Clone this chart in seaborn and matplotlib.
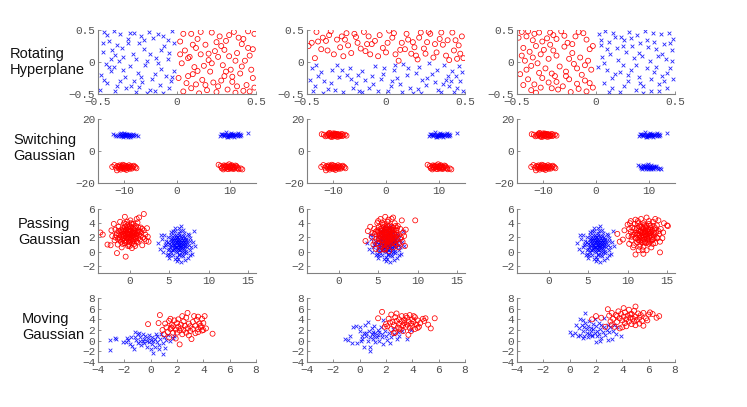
import matplotlib
matplotlib.use("Agg")
import matplotlib.pyplot as plt
import seaborn as sns
import numpy as np

# ---- Rotating Hyperplane ----
rot1_blue = [(-0.46,0.47),(-0.40,0.48),(-0.36,0.44),(-0.27,0.46),(-0.18,0.47),(-0.12,0.43),(-0.03,0.49),(-0.43,0.33),(-0.38,0.27),(-0.31,0.36),(-0.24,0.30),(-0.15,0.38),(-0.08,0.25),(-0.47,0.15),(-0.41,0.19),(-0.34,0.08),(-0.28,0.13),(-0.21,0.21),(-0.13,0.06),(-0.05,0.14),(-0.45,-0.03),(-0.37,0.02),(-0.30,-0.07),(-0.19,0.01),(-0.10,-0.11),(-0.02,-0.14),(-0.48,-0.21),(-0.42,-0.14),(-0.33,-0.23),(-0.25,-0.17),(-0.16,-0.26),(-0.07,-0.22),(-0.44,-0.33),(-0.36,-0.29),(-0.29,-0.38),(-0.22,-0.31),(-0.11,-0.36),(-0.04,-0.30),(-0.49,-0.43),(-0.39,-0.46),(-0.32,-0.41),(-0.26,-0.47),(-0.17,-0.43),(-0.09,-0.48),(-0.35,0.22),(-0.20,-0.05),(-0.06,0.34),(-0.14,-0.18),(-0.40,-0.08),(-0.23,0.41),
             (-0.44,0.42),(-0.30,0.45),(-0.21,0.35),(-0.09,0.40),(-0.02,0.30),(-0.47,0.30),(-0.39,0.11),(-0.26,0.04),(-0.17,0.13),(-0.06,0.05),(-0.43,-0.08),(-0.34,-0.13),(-0.23,-0.24),(-0.12,-0.02),(-0.03,-0.24),(-0.46,-0.28),(-0.38,-0.37),(-0.27,-0.30),(-0.19,-0.49),(-0.05,-0.40),(-0.14,-0.46),(-0.31,0.29),(-0.10,0.18),(-0.24,-0.39),(-0.42,0.05)]
rot1_red = [(0.02,0.32),(0.05,0.18),(0.09,0.44),(0.13,0.36),(0.18,0.27),(0.22,0.46),(0.27,0.40),(0.31,0.33),(0.36,0.47),(0.41,0.28),(0.45,0.48),(0.48,0.20),(0.03,-0.02),(0.07,0.06),(0.11,-0.08),(0.15,0.12),(0.20,0.03),(0.24,0.17),(0.29,-0.05),(0.33,0.09),(0.38,0.14),(0.43,0.02),(0.47,-0.12),(0.01,-0.25),(0.06,-0.33),(0.10,-0.19),(0.16,-0.28),(0.21,-0.15),(0.26,-0.38),(0.30,-0.22),(0.35,-0.31),(0.40,-0.18),(0.44,-0.36),(0.49,-0.40),(0.04,-0.46),(0.09,-0.41),(0.14,-0.49),(0.19,-0.44),(0.25,-0.47),(0.32,-0.43),(0.37,-0.48),(0.42,-0.45),(0.12,0.22),(0.28,0.25),(0.39,0.38),(0.17,-0.06),(0.34,-0.12),(0.23,-0.32),(0.46,0.10),(0.08,0.08),
            (0.04,0.44),(0.15,0.47),(0.25,0.31),(0.33,0.42),(0.42,0.36),(0.49,0.44),(0.10,0.27),(0.20,0.13),(0.30,0.19),(0.37,0.02),(0.45,0.22),(0.02,0.12),(0.13,-0.14),(0.22,-0.02),(0.31,-0.15),(0.41,-0.07),(0.48,-0.25),(0.07,-0.22),(0.18,-0.36),(0.28,-0.29),(0.38,-0.38),(0.46,-0.46),(0.12,-0.35),(0.35,-0.23),(0.26,0.08)]
rot2_blue = [(-0.48,-0.28),(-0.45,-0.37),(-0.41,-0.15),(-0.37,-0.42),(-0.34,-0.12),(-0.30,-0.24),(-0.27,-0.47),(-0.23,-0.09),(-0.19,-0.33),(-0.15,-0.14),(-0.11,-0.40),(-0.07,-0.06),(-0.03,-0.26),(0.01,-0.45),(0.05,-0.12),(0.09,-0.34),(0.13,-0.21),(0.17,-0.48),(0.21,-0.08),(0.25,-0.36),(0.29,-0.18),(0.33,-0.43),(0.37,-0.05),(0.41,-0.29),(0.45,-0.40),(0.48,-0.15),(-0.46,-0.45),(-0.39,-0.30),(-0.32,-0.44),(-0.25,-0.20),(-0.17,-0.45),(-0.09,-0.22),(-0.01,-0.10),(0.07,-0.25),(0.15,-0.40),(0.23,-0.28),(0.31,-0.31),(0.39,-0.22),(0.46,-0.07),(-0.43,-0.22),(-0.21,-0.41),(0.03,-0.38),(0.19,-0.17),(0.35,-0.47),(0.43,-0.47),(-0.13,-0.28),(0.11,-0.03),(0.27,-0.02),(-0.05,-0.46),(0.40,-0.38),
             (-0.47,-0.10),(-0.40,-0.48),(-0.35,-0.33),(-0.28,-0.12),(-0.22,-0.27),(-0.15,-0.47),(-0.08,-0.35),(-0.02,-0.18),(0.04,-0.30),(0.10,-0.47),(0.14,-0.10),(0.20,-0.42),(0.26,-0.25),(0.32,-0.12),(0.36,-0.35),(0.42,-0.14),(0.47,-0.30),(0.49,-0.46),(-0.44,-0.05),(-0.31,-0.05),(-0.18,-0.20),(0.06,-0.04),(0.22,-0.48),(0.38,-0.28),(0.44,-0.22)]
rot2_red = [(-0.47,0.30),(-0.44,0.47),(-0.40,0.38),(-0.36,0.42),(-0.33,0.12),(-0.28,0.40),(-0.24,0.26),(-0.20,0.44),(-0.16,0.21),(-0.11,0.40),(-0.07,0.33),(-0.02,0.22),(0.02,0.49),(0.06,0.12),(0.10,0.30),(0.14,0.35),(0.18,0.23),(0.22,0.46),(0.26,0.31),(0.30,0.07),(0.34,0.36),(0.38,0.10),(0.42,0.46),(0.46,0.26),(0.49,0.06),(-0.45,0.06),(-0.41,0.20),(-0.37,0.18),(-0.31,0.35),(-0.27,0.09),(-0.22,0.14),(-0.18,0.30),(-0.13,0.17),(-0.09,0.28),(-0.05,0.09),(0.00,0.15),(0.04,0.38),(0.08,0.02),(0.12,0.20),(0.16,0.13),(0.20,0.04),(0.24,0.21),(0.28,0.44),(0.32,0.15),(0.36,0.27),(0.40,0.03),(0.44,0.34),(0.47,0.13),(-0.38,0.33),(0.25,0.13),
            (-0.49,0.25),(-0.43,0.32),(-0.35,0.48),(-0.29,0.23),(-0.25,0.45),(-0.19,0.39),(-0.14,0.47),(-0.10,0.12),(-0.04,0.42),(0.01,0.30),(0.05,0.45),(0.09,0.19),(0.13,0.44),(0.17,0.31),(0.21,0.38),(0.27,0.47),(0.31,0.28),(0.35,0.46),(0.39,0.34),(0.43,0.18),(0.48,0.40),(0.45,0.05),(0.19,0.10),(-0.12,0.28),(-0.26,0.35)]
rot3_blue = [(0.02,0.43),(0.06,0.48),(0.11,0.45),(0.16,0.39),(0.21,0.47),(0.26,0.42),(0.31,0.48),(0.36,0.46),(0.41,0.44),(0.46,0.46),(0.49,0.36),(0.03,0.27),(0.08,0.31),(0.13,0.22),(0.18,0.35),(0.23,0.25),(0.28,0.30),(0.33,0.24),(0.38,0.21),(0.43,0.28),(0.48,0.18),(0.04,0.08),(0.09,0.12),(0.14,0.03),(0.19,0.15),(0.24,0.06),(0.29,0.10),(0.34,0.02),(0.39,0.09),(0.44,0.05),(0.01,-0.08),(0.07,-0.13),(0.12,-0.19),(0.17,-0.05),(0.22,-0.12),(0.27,-0.24),(0.32,-0.10),(0.37,-0.16),(0.42,-0.22),(0.47,-0.09),(0.05,-0.33),(0.10,-0.40),(0.15,-0.47),(0.20,-0.30),(0.25,-0.43),(0.30,-0.37),(0.35,-0.45),(0.40,-0.34),(0.45,-0.40),(0.49,-0.26),
             (0.03,0.35),(0.07,0.21),(0.12,0.39),(0.17,0.25),(0.22,0.37),(0.27,0.14),(0.32,0.35),(0.37,0.31),(0.42,0.13),(0.47,0.30),(0.05,-0.02),(0.10,-0.25),(0.15,-0.15),(0.20,-0.21),(0.25,-0.05),(0.30,-0.48),(0.35,-0.27),(0.40,-0.46),(0.45,-0.17),(0.48,0.02),(0.08,-0.47),(0.18,-0.38),(0.28,-0.33),(0.38,-0.08),(0.43,-0.30)]
rot3_red = [(-0.47,0.47),(-0.44,0.40),(-0.40,0.34),(-0.36,0.46),(-0.31,0.37),(-0.27,0.42),(-0.22,0.48),(-0.18,0.30),(-0.13,0.40),(-0.08,0.45),(-0.04,0.20),(-0.46,0.22),(-0.42,0.16),(-0.38,0.25),(-0.33,0.19),(-0.29,0.27),(-0.25,0.10),(-0.20,0.24),(-0.15,0.14),(-0.10,0.07),(-0.05,0.02),(-0.45,0.02),(-0.41,-0.06),(-0.37,-0.02),(-0.32,-0.10),(-0.28,-0.18),(-0.23,-0.07),(-0.19,-0.15),(-0.14,-0.03),(-0.09,-0.20),(-0.03,-0.12),(-0.48,-0.19),(-0.43,-0.27),(-0.39,-0.35),(-0.34,-0.25),(-0.30,-0.32),(-0.26,-0.22),(-0.21,-0.38),(-0.17,-0.27),(-0.12,-0.34),(-0.07,-0.29),(-0.02,-0.40),(-0.46,-0.36),(-0.41,-0.44),(-0.35,-0.40),(-0.24,-0.43),(-0.16,-0.47),(-0.11,-0.42),(-0.06,-0.46),(-0.30,0.05),
            (-0.49,0.38),(-0.43,0.48),(-0.39,0.44),(-0.34,0.32),(-0.29,0.46),(-0.25,0.36),(-0.20,0.41),(-0.15,0.28),(-0.11,0.47),(-0.06,0.35),(-0.02,0.25),(-0.47,0.10),(-0.40,0.07),(-0.35,0.12),(-0.27,0.18),(-0.17,0.05),(-0.12,-0.10),(-0.07,-0.05),(-0.44,-0.12),(-0.36,-0.17),(-0.25,-0.31),(-0.19,-0.22),(-0.04,-0.33),(-0.38,-0.48),(-0.28,-0.41)]

# ---- Switching Gaussian: four clusters ----
sw_tl = [(-11.8,10.2),(-11.2,9.6),(-10.9,10.8),(-10.6,9.1),(-10.4,10.4),(-10.2,9.8),(-10.0,11.0),(-9.8,10.1),(-9.6,9.4),(-9.4,10.6),(-9.2,9.9),(-9.0,10.3),(-8.7,9.5),(-8.4,10.7),(-8.1,9.8),(-7.8,10.2),(-11.5,9.2),(-11.0,10.0),(-10.7,11.3),(-10.3,8.7),(-10.1,10.0),(-9.9,9.2),(-9.7,10.9),(-9.5,10.2),(-9.3,8.9),(-9.1,10.5),(-8.9,9.7),(-8.6,10.0),(-8.3,9.3),(-10.5,9.6),(-9.8,10.5),(-10.8,10.4),(-9.0,9.0),(-12.2,10.5),(-7.5,9.6)]
sw_tr = [(8.2,9.6),(8.6,10.4),(8.9,9.2),(9.2,10.8),(9.4,9.8),(9.6,10.3),(9.8,9.4),(10.0,10.9),(10.2,9.9),(10.4,10.5),(10.6,9.1),(10.8,10.2),(11.0,9.7),(11.3,10.6),(11.6,9.5),(11.9,10.8),(12.2,10.1),(13.4,11.2),(8.4,10.9),(9.0,10.1),(9.3,11.6),(9.7,8.8),(9.9,10.2),(10.1,9.3),(10.3,11.2),(10.5,9.7),(10.7,10.7),(10.9,8.7),(11.2,10.0),(11.5,11.0),(12.0,9.4),(9.5,9.0),(10.4,10.0),(8.8,9.8),(11.7,10.3)]
sw_bl = [(-11.9,-8.8),(-11.6,-10.4),(-11.3,-9.4),(-11.0,-11.0),(-10.8,-9.7),(-10.5,-10.5),(-10.3,-8.6),(-10.1,-10.1),(-9.9,-11.3),(-9.7,-9.3),(-9.5,-10.7),(-9.3,-9.9),(-9.0,-11.1),(-8.8,-9.5),(-8.5,-10.3),(-8.2,-9.2),(-7.9,-10.0),(-11.4,-12.1),(-11.1,-10.0),(-10.7,-11.6),(-10.4,-9.5),(-10.2,-10.9),(-10.0,-9.0),(-9.8,-10.4),(-9.6,-11.8),(-9.4,-9.7),(-9.2,-10.5),(-8.9,-10.0),(-8.6,-11.0),(-8.3,-9.8),(-12.3,-9.9),(-10.6,-10.2),(-9.1,-8.9),(-7.7,-10.8),(-10.9,-9.0)]
sw_br = [(7.9,-8.6),(8.3,-9.4),(8.6,-10.2),(8.9,-9.0),(9.1,-10.7),(9.3,-9.6),(9.5,-11.1),(9.7,-10.0),(9.9,-8.3),(10.1,-10.4),(10.3,-9.3),(10.5,-11.0),(10.7,-9.8),(10.9,-10.6),(11.1,-9.1),(11.4,-10.3),(11.7,-11.4),(12.1,-10.9),(12.4,-11.5),(8.5,-10.8),(8.8,-11.5),(9.2,-9.2),(9.4,-10.1),(9.6,-9.0),(9.8,-11.3),(10.0,-9.7),(10.2,-10.9),(10.4,-8.9),(10.6,-10.2),(10.8,-11.2),(11.0,-10.0),(11.3,-9.5),(11.6,-10.7),(9.0,-9.9),(10.2,-10.0)]

# ---- Passing Gaussian ----
pass_blue = [(3.6,1.2),(3.9,0.4),(4.1,1.8),(4.2,-0.1),(4.4,2.3),(4.5,0.9),(4.6,1.5),(4.7,-0.5),(4.8,0.3),(4.9,2.0),(5.0,1.1),(5.0,-0.9),(5.1,0.6),(5.2,2.8),(5.2,1.4),(5.3,0.0),(5.4,1.9),(5.4,0.8),(5.5,-0.4),(5.5,1.2),(5.6,2.4),(5.6,0.4),(5.7,1.7),(5.7,-1.1),(5.8,0.9),(5.8,3.3),(5.9,1.3),(5.9,0.1),(6.0,2.1),(6.0,0.7),(6.0,-0.7),(6.1,1.5),(6.1,1.0),(6.2,2.6),(6.2,0.3),(6.3,1.8),(6.3,-0.3),(6.4,1.1),(6.4,0.6),(6.5,2.2),(6.5,-1.4),(6.6,1.4),(6.6,0.0),(6.7,0.9),(6.7,3.0),(6.8,1.7),(6.8,-0.6),(6.9,0.5),(7.0,2.0),(7.0,1.2),(7.1,-0.2),(7.2,1.6),(7.3,0.7),(7.4,2.5),(7.4,-0.9),(7.5,1.0),(7.6,0.2),(7.7,1.9),(7.8,0.6),(8.0,1.4),(8.1,2.9),(8.3,0.8),(4.3,0.6),(4.8,1.3),(5.1,-0.4),(5.3,2.4),(5.6,1.0),(5.9,1.9),(6.1,-1.1),(6.2,1.3),(6.4,2.9),(6.6,0.5),(6.9,1.4),(7.2,0.1),(7.5,2.3),(5.4,0.3),(6.0,1.3),(6.3,0.9),(5.8,0.5),(6.7,1.2),(7.9,-0.3),(5.7,2.9),(6.5,3.6),(4.0,2.4),(7.0,-1.2),(5.5,1.6),(6.2,0.7),(6.8,2.2),
             (5.2,0.9),(5.4,1.5),(5.5,0.2),(5.6,1.9),(5.7,0.7),(5.8,1.2),(5.9,0.6),(5.9,2.4),(6.0,1.7),(6.0,0.0),(6.1,0.4),(6.1,2.0),(6.2,1.0),(6.2,-0.4),(6.3,1.4),(6.3,2.3),(6.4,0.2),(6.4,1.7),(6.5,0.8),(6.5,1.2),(6.6,1.9),(6.6,-0.5),(6.7,0.4),(6.7,1.6),(6.8,1.0),(6.9,2.6),(6.9,-0.1),(7.0,0.8),(7.1,1.8),(7.2,1.1),(5.3,1.8),(5.0,0.4),(4.6,1.1),(7.3,1.3),(7.6,1.5),(5.5,2.9),(6.3,3.3),(4.9,-0.3),(7.7,-0.4),(6.0,-1.3)]
pass1_red = [(-3.7,2.7),(-3.4,2.4),(-2.8,1.0),(-2.4,0.9),(-1.6,-0.2),(-0.5,-0.7),(1.8,5.3),(1.2,4.8),(-0.6,4.9),(-2.0,3.9),(-2.2,2.2),(-1.9,1.6),(-1.8,3.1),(-1.6,2.6),(-1.5,1.0),(-1.4,3.5),(-1.3,2.0),(-1.2,4.2),(-1.1,1.4),(-1.0,2.8),(-1.0,0.6),(-0.9,3.3),(-0.8,1.9),(-0.8,2.5),(-0.7,4.0),(-0.6,1.2),(-0.5,3.0),(-0.5,2.2),(-0.4,1.6),(-0.3,3.7),(-0.3,2.7),(-0.2,0.8),(-0.1,2.0),(-0.1,3.2),(0.0,2.5),(0.0,1.3),(0.1,4.4),(0.1,2.9),(0.2,1.8),(0.2,3.5),(0.3,2.3),(0.3,0.5),(0.4,2.8),(0.4,1.5),(0.5,3.9),(0.5,2.0),(0.6,3.1),(0.6,1.1),(0.7,2.6),(0.8,3.6),(0.8,1.8),(0.9,2.2),(1.0,4.1),(1.0,1.3),(1.1,3.0),(1.2,2.4),(1.3,1.7),(1.4,3.4),(1.5,2.7),(1.6,0.9),(1.7,2.0),(1.8,3.0),(2.0,2.4),(2.1,1.5),(2.3,2.1),(2.4,1.4),(-1.7,2.3),(-1.2,1.7),(-0.9,2.4),(-0.6,3.5),(-0.4,2.0),(-0.2,2.6),(0.0,3.0),(0.2,2.1),(0.4,3.3),(0.6,2.4),(0.9,2.8),(1.1,1.9),(-0.7,1.5),(-0.1,1.0),(0.7,0.8),(1.4,2.2),(-1.4,2.9),(-0.3,4.2),(0.9,4.6),(-2.3,3.0),(2.2,3.3),(-0.2,1.8),(0.3,2.6),(-0.8,3.1),
             (-1.0,2.1),(-0.9,1.7),(-0.8,2.9),(-0.7,2.2),(-0.6,2.7),(-0.5,1.4),(-0.4,2.5),(-0.4,3.1),(-0.3,1.9),(-0.2,2.3),(-0.2,3.4),(-0.1,2.8),(0.0,2.0),(0.0,3.6),(0.1,1.6),(0.1,2.4),(0.2,3.0),(0.3,1.2),(0.3,3.9),(0.4,2.2),(0.5,2.6),(0.5,1.6),(0.6,2.9),(0.7,2.0),(0.7,3.3),(0.8,2.4),(0.9,1.5),(1.0,2.6),(1.1,3.4),(1.3,2.8),(-1.1,3.0),(-1.3,2.4),(-1.5,1.8),(-0.5,3.9),(0.2,4.0),(1.6,3.2),(1.9,1.8),(-1.8,2.0),(0.0,0.8),(-0.9,1.1)]
pass2_red = [(3.4,1.5),(3.7,2.9),(4.0,3.5),(4.2,2.1),(4.4,1.0),(4.5,3.2),(4.6,2.5),(4.7,0.4),(4.8,1.8),(4.9,4.0),(5.0,2.8),(5.0,1.2),(5.1,3.5),(5.2,2.2),(5.3,0.7),(5.3,4.6),(5.4,1.6),(5.4,3.0),(5.5,2.5),(5.6,1.0),(5.6,3.8),(5.7,2.0),(5.7,0.3),(5.8,2.9),(5.8,1.4),(5.9,4.9),(5.9,2.4),(6.0,3.4),(6.0,1.8),(6.1,0.8),(6.1,2.7),(6.2,4.2),(6.2,1.3),(6.3,2.2),(6.3,3.1),(6.4,0.1),(6.4,1.7),(6.5,3.7),(6.5,2.5),(6.6,1.1),(6.7,2.9),(6.7,4.6),(6.8,2.0),(6.9,0.6),(6.9,3.3),(7.0,1.5),(7.0,2.6),(7.1,4.0),(7.2,2.1),(7.3,0.9),(7.3,3.0),(7.4,1.7),(7.5,3.6),(7.6,2.4),(7.7,1.2),(7.8,3.2),(7.9,2.0),(8.0,4.4),(8.1,1.4),(8.2,2.7),(8.4,0.8),(8.5,3.1),(9.7,4.4),(4.7,2.8),(5.1,1.9),(5.5,3.3),(5.7,2.6),(5.9,1.1),(6.1,3.7),(6.3,1.5),(6.5,2.0),(6.8,2.6),(7.1,1.2),(7.4,2.4),(5.3,2.4),(6.0,2.3),(6.6,3.2),(7.2,3.6),(5.8,3.9),(6.4,2.8),(4.3,2.6),(7.6,0.6),(8.3,2.2),(5.2,0.2),(6.9,4.8),(6.0,0.5),(7.8,1.8),(5.0,4.3),(4.6,1.4),(6.2,2.0),
             (5.2,1.7),(5.3,3.2),(5.4,2.0),(5.5,2.9),(5.6,1.6),(5.6,2.3),(5.7,3.4),(5.8,2.1),(5.8,1.0),(5.9,3.0),(6.0,2.7),(6.0,1.4),(6.1,2.1),(6.1,3.2),(6.2,2.5),(6.2,1.0),(6.3,2.8),(6.3,3.6),(6.4,1.9),(6.4,2.3),(6.5,1.4),(6.5,3.0),(6.6,2.3),(6.6,1.6),(6.7,2.0),(6.7,3.5),(6.8,1.3),(6.8,3.0),(6.9,2.3),(7.0,1.9),(7.0,3.1),(7.1,2.5),(7.2,1.6),(7.3,2.4),(5.1,2.6),(4.9,3.0),(5.5,4.1),(6.3,4.5),(7.4,3.3),(5.9,0.3)]
pass3_red = [(8.7,2.5),(9.0,1.4),(9.4,1.7),(9.6,3.0),(10.0,3.8),(10.1,2.2),(10.2,1.1),(10.3,4.0),(10.4,2.8),(10.5,1.6),(10.6,3.4),(10.7,0.6),(10.8,2.4),(10.9,3.9),(11.0,1.9),(11.0,-0.4),(11.1,3.0),(11.2,1.3),(11.3,2.6),(11.3,4.3),(11.4,0.2),(11.5,3.5),(11.5,2.0),(11.6,1.0),(11.7,2.9),(11.7,4.6),(11.8,1.7),(11.9,3.3),(11.9,2.3),(12.0,0.7),(12.0,4.0),(12.1,2.7),(12.2,1.4),(12.2,3.6),(12.3,2.1),(12.4,4.8),(12.4,0.2),(12.5,3.0),(12.5,1.8),(12.6,2.5),(12.7,3.9),(12.7,1.1),(12.8,2.2),(12.9,3.4),(13.0,0.6),(13.0,2.8),(13.1,1.6),(13.2,4.2),(13.3,2.3),(13.4,3.1),(13.5,1.2),(13.6,2.7),(13.7,3.7),(13.8,1.9),(13.9,4.4),(14.0,2.5),(14.1,1.4),(14.2,3.2),(14.4,1.9),(14.6,4.0),(15.0,3.7),(15.1,3.6),(14.1,-0.1),(10.2,3.2),(10.8,0.9),(11.2,2.4),(11.6,3.7),(11.9,1.3),(12.2,2.9),(12.6,1.6),(12.9,2.6),(13.3,3.6),(13.7,2.0),(11.4,1.6),(12.1,2.1),(12.8,3.1),(11.8,2.6),(12.4,2.4),(13.1,2.0),(10.6,2.4),(11.0,4.5),(13.5,4.6),(12.0,-0.3),(14.5,2.7),(10.4,4.3),(12.3,3.3),(11.5,0.7),(13.2,1.1),
             (11.0,2.6),(11.1,1.9),(11.2,3.3),(11.3,1.7),(11.4,2.9),(11.5,2.4),(11.6,1.5),(11.6,2.8),(11.7,2.1),(11.8,3.5),(11.8,1.9),(11.9,2.8),(12.0,2.3),(12.0,3.2),(12.1,1.7),(12.1,3.8),(12.2,2.5),(12.3,1.2),(12.3,2.8),(12.4,3.6),(12.5,2.2),(12.5,1.3),(12.6,3.2),(12.6,2.8),(12.7,2.0),(12.8,2.6),(12.8,1.4),(12.9,3.7),(13.0,2.3),(13.1,3.0),(13.2,1.7),(13.3,2.7),(13.4,1.9),(13.5,3.3),(10.9,3.3),(10.5,2.1),(11.3,4.0),(12.7,4.3),(13.9,2.9),(11.9,0.2)]

# ---- Moving Gaussian ----
mov1_blue = [(-3.1,0.2),(-3.1,-1.7),(-2.7,0.5),(-2.6,0.4),(-2.1,-0.3),(-1.9,-0.3),(-1.8,0.5),(-1.7,0.1),(-1.6,-0.7),(-1.5,0.6),(-1.4,-1.0),(-1.3,-1.6),(-1.2,0.7),(-1.1,0.2),(-1.0,-0.4),(-1.0,1.3),(-0.9,1.5),(-0.8,-0.1),(-0.8,0.6),(-0.7,-0.9),(-0.6,1.2),(-0.5,0.3),(-0.5,-0.5),(-0.4,0.9),(-0.3,-1.2),(-0.3,0.0),(-0.2,0.5),(-0.1,-0.3),(-0.1,1.1),(0.0,0.2),(0.0,-1.5),(0.1,0.7),(0.1,-0.6),(0.2,0.0),(0.2,-2.4),(0.3,0.4),(0.3,-1.1),(0.4,1.3),(0.5,-0.2),(0.5,0.8),(0.6,-0.9),(0.7,0.3),(0.8,1.2),(0.9,-0.5),(0.9,-2.5),(1.0,0.6),(1.1,-1.4),(1.2,0.1),(1.3,1.0),(1.5,-0.1),(1.7,0.5),(1.8,0.9),(-1.2,1.7),(0.6,-1.6),(-0.6,-0.1)]
mov1_red = [(-0.2,3.1),(0.6,3.3),(0.7,4.8),(0.9,2.0),(1.0,1.2),(1.1,3.2),(1.2,2.5),(1.3,1.6),(1.4,3.7),(1.5,2.2),(1.5,4.1),(1.6,3.0),(1.7,1.5),(1.7,2.7),(1.8,3.8),(1.9,2.1),(1.9,0.4),(2.0,3.3),(2.0,1.5),(2.1,2.6),(2.1,4.0),(2.2,1.9),(2.2,-0.7),(2.3,3.0),(2.3,2.3),(2.4,1.2),(2.5,3.6),(2.5,2.0),(2.6,2.8),(2.7,1.5),(2.7,4.3),(2.8,5.2),(2.8,2.3),(2.9,3.2),(3.0,1.8),(3.0,2.7),(3.1,0.3),(3.2,2.2),(3.2,3.5),(3.3,4.6),(3.4,1.4),(3.4,2.8),(3.5,3.9),(3.6,2.2),(3.6,1.6),(3.7,3.2),(3.8,2.5),(3.9,4.1),(4.0,2.0),(4.0,3.3),(4.1,4.6),(4.2,2.3),(4.7,1.3),(1.4,0.6),(2.4,4.6),(3.6,4.5),(1.6,2.4),(2.9,1.0),(3.9,1.9),(3.8,2.8)]
mov2_blue = [(-1.1,0.4),(-0.9,0.2),(-0.7,0.8),(-0.6,-0.4),(-0.5,2.6),(-0.3,2.7),(-0.2,-0.4),(0.0,2.6),(0.0,1.8),(0.1,0.0),(0.2,0.4),(0.3,1.5),(0.3,-1.2),(0.4,2.9),(0.5,0.8),(0.5,1.4),(0.6,-0.1),(0.6,3.5),(0.7,1.9),(0.8,0.6),(0.8,-1.2),(0.8,-1.9),(0.9,1.2),(0.9,2.3),(1.0,0.3),(1.0,1.7),(1.1,0.9),(1.1,2.8),(1.2,1.4),(1.2,-0.3),(1.3,0.7),(1.4,2.0),(1.4,1.1),(1.5,0.0),(1.5,1.6),(1.6,2.5),(1.7,0.6),(1.7,1.3),(1.8,-0.6),(1.8,3.8),(1.9,1.8),(2.0,0.9),(2.1,0.2),(2.2,1.5),(2.3,-0.4),(2.4,0.7),(2.5,2.1),(2.6,1.2),(2.8,0.3),(2.9,1.6),(3.0,0.9),(3.2,1.9),(3.6,0.4),(3.9,2.0),(0.2,0.8)]
mov2_red = [(1.4,4.2),(1.7,5.4),(1.9,2.6),(2.0,3.1),(2.1,2.7),(2.2,4.1),(2.4,2.2),(2.4,4.9),(2.5,3.5),(2.6,2.9),(2.7,4.4),(2.7,1.5),(2.8,3.7),(2.8,5.1),(2.9,2.5),(3.0,3.2),(3.0,4.0),(3.1,2.1),(3.2,3.6),(3.2,4.6),(3.3,2.9),(3.4,3.3),(3.4,3.9),(3.5,2.6),(3.6,4.3),(3.6,3.0),(3.7,3.6),(3.7,1.1),(3.8,4.8),(3.8,2.4),(3.9,3.2),(4.0,4.0),(4.0,2.8),(4.1,3.5),(4.2,4.4),(4.2,2.2),(4.3,3.0),(4.4,3.8),(4.5,2.6),(4.6,3.3),(4.8,4.1),(4.9,3.7),(5.0,4.2),(5.2,3.0),(5.4,2.3),(5.7,4.2),(2.3,3.4),(3.0,2.3),(3.5,4.6),(4.4,2.4),(2.6,1.4),(3.9,1.8),(4.1,4.6),(3.3,1.8)]
mov3_blue = [(0.0,1.7),(0.2,1.1),(0.4,1.4),(0.6,0.8),(0.7,2.3),(0.8,1.0),(0.8,4.1),(0.9,2.9),(1.0,0.5),(1.0,1.9),(1.1,2.5),(1.1,0.9),(1.2,3.3),(1.2,5.1),(1.3,1.5),(1.3,2.1),(1.4,0.6),(1.4,2.8),(1.5,3.6),(1.5,1.2),(1.6,2.4),(1.6,1.8),(1.7,0.8),(1.8,3.1),(1.8,2.1),(1.9,1.5),(1.9,4.0),(2.0,-0.2),(2.0,2.7),(2.1,1.9),(2.1,0.9),(2.2,3.4),(2.2,1.3),(2.3,2.2),(2.4,2.9),(2.4,0.5),(2.5,1.7),(2.6,2.5),(2.6,4.3),(2.7,1.1),(2.8,2.0),(2.9,3.0),(2.9,0.2),(3.0,1.6),(3.1,2.6),(3.2,0.3),(3.3,1.9),(3.4,2.9),(3.5,1.3),(3.6,2.5),(3.9,0.8),(1.0,3.9),(0.5,2.9),(2.3,0.0),(1.7,1.0)]
mov3_red = [(1.7,4.0),(2.0,4.6),(2.4,4.3),(2.7,2.6),(2.9,5.9),(3.0,4.7),(3.1,3.6),(3.2,5.2),(3.3,4.1),(3.4,2.6),(3.5,4.8),(3.6,3.5),(3.7,5.5),(3.8,4.2),(3.8,2.3),(3.9,5.0),(4.0,3.8),(4.1,4.5),(4.1,6.1),(4.2,3.3),(4.2,5.3),(4.3,4.0),(4.3,2.7),(4.4,4.7),(4.5,3.6),(4.5,5.8),(4.6,4.3),(4.7,3.1),(4.7,5.0),(4.8,4.1),(4.9,3.6),(4.9,5.6),(5.0,4.5),(5.0,2.9),(5.1,3.9),(5.2,5.1),(5.3,4.3),(5.3,3.2),(5.4,4.8),(5.5,3.7),(5.6,5.2),(5.6,2.8),(5.8,4.2),(6.0,4.9),(6.1,5.3),(6.3,5.0),(6.6,4.3),(6.8,4.6),(5.0,6.4),(3.2,3.0),(4.0,2.5),(4.6,4.9),(5.9,3.8),(3.6,4.6)]

row_names = ["Rotating\nHyperplane", "Switching\nGaussian", "Passing\nGaussian", "Moving\nGaussian"]

panels = [
    [(rot1_blue, rot1_red), (rot2_blue, rot2_red), (rot3_blue, rot3_red)],
    [(sw_tl + sw_tr, sw_bl + sw_br), (sw_tr, sw_tl + sw_bl + sw_br), (sw_tr + sw_br, sw_tl + sw_bl)],
    [(pass_blue, pass1_red), (pass_blue, pass2_red), (pass_blue, pass3_red)],
    [(mov1_blue, mov1_red), (mov2_blue, mov2_red), (mov3_blue, mov3_red)],
]

limits = [((-0.5, 0.5), (-0.5, 0.5)), ((-15, 15), (-20, 20)), ((-4, 16), (-3, 6)), ((-4, 8), (-4, 8))]
xticks = [[-0.5, 0, 0.5], [-10, 0, 10], [0, 5, 10, 15], [-4, -2, 0, 2, 4, 6, 8]]
yticks = [[-0.5, 0, 0.5], [-20, 0, 20], [-2, 0, 2, 4, 6], [-4, -2, 0, 2, 4, 6, 8]]
ticklabels = [["\u22120.5", "0", "0.5"], None, None, None]

sns.set_style("white")

W, H = 747, 407
fig = plt.figure(figsize=(W / 100, H / 100), dpi=100)

col_left = [98, 307, 517]
row_top = [30, 119, 209, 298]
ax_w, ax_h = 158, 64
label_x = [10, 13, 18, 22]
label_y = [62, 148, 232, 327]

grey = "#808080"
tgrey = "#505050"

for r in range(4):
    for c in range(3):
        ax = fig.add_axes([col_left[c] / W, 1 - (row_top[r] + ax_h) / H, ax_w / W, ax_h / H])
        blue, red = panels[r][c]
        bx, by = zip(*blue)
        rx, ry = zip(*red)
        sns.scatterplot(x=list(bx), y=list(by), ax=ax, marker="x", color="#0000ff",
                        s=7, linewidth=0.6, alpha=0.85)
        sns.scatterplot(x=list(rx), y=list(ry), ax=ax, marker="o", facecolors="none",
                        edgecolor="#ff0000", s=13, linewidth=0.55)
        ax.set_xlim(*limits[r][0])
        ax.set_ylim(*limits[r][1])
        ax.set_xticks(xticks[r])
        ax.set_yticks(yticks[r])
        if ticklabels[r] is not None:
            ax.set_xticklabels(ticklabels[r])
            ax.set_yticklabels(ticklabels[r])
        for side in ["top", "right"]:
            ax.spines[side].set_visible(False)
        for side in ["left", "bottom"]:
            ax.spines[side].set_color(grey)
            ax.spines[side].set_linewidth(0.8)
        ax.tick_params(direction="in", length=2, width=0.6, color=grey,
                       labelcolor=tgrey, labelsize=8, pad=2,
                       left=True, bottom=True)
        for lab in ax.get_xticklabels() + ax.get_yticklabels():
            lab.set_family("Liberation Mono")
    fig.text(label_x[r] / W, 1 - label_y[r] / H, row_names[r], ha="left", va="center",
             family="Liberation Sans", fontsize=10.5, color="#111111", linespacing=1.1)

fig.savefig("out.png", dpi=100, facecolor="white")
